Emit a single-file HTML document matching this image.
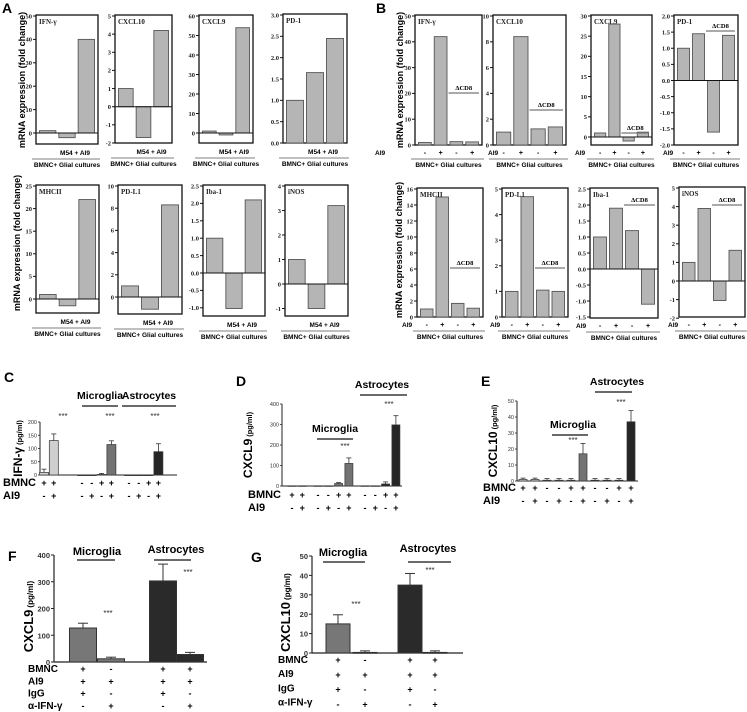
<!DOCTYPE html>
<html><head><meta charset="utf-8"><style>
html,body{margin:0;padding:0;background:#fff;}
svg{display:block;font-family:"Liberation Sans",sans-serif;}
.sf{font-family:"Liberation Serif",serif;}
</style></head><body>
<svg id="fig" width="747" height="712" viewBox="0 0 747 712" xmlns="http://www.w3.org/2000/svg"></svg>
<script>
// ---------- data ----------
const barCatsA = ['bmnc-glial', 'm54', 'm54-ai9'];
const aIFNg = [1, -2, 40];
const aCXCL10 = [1, -1.7, 4.2];
const aCXCL9 = [1, -1, 54];
const aPD1 = [1, 1.65, 2.45];
const aMHCII = [1, -1.5, 22];
const aPDL1 = [1, -1.1, 8.3];
const aIba1 = [1, -1.02, 2.1];
const aINOS = [1, -1, 3.2];
const bIFNg = [1, 42, 1.3, 1.2];
const bCXCL10 = [1, 8.4, 1.25, 1.4];
const bCXCL9 = [1, 28, -1, 1.2];
const bPD1 = [1, 1.45, -1.6, 1.4];
const bMHCII = [1, 15, 1.7, 1.1];
const bPDL1 = [1, 4.7, 1.05, 1];
const bIba1 = [1, 1.9, 1.2, -1.1];
const bINOS = [1, 3.9, -1.05, 1.65];
const bAI9 = ['-', '+', '-', '+'];
const tA1 = [0,10,20,30,40,50];
const tA2 = [-2,-1,0,1,2,3,4,5];
const tA3 = [0,10,20,30,40,50,60];
const tA4 = ['0.0','0.5','1.0','1.5','2.0','2.5','3.0'];
const tA5 = [0,5,10,15,20,25];
const tA6 = [0,2,4,6,8,10];
const tA7 = ['-1.0','-0.5','0.0','0.5','1.0','1.5','2.0','2.5'];
const tA8 = [-1,0,1,2,3,4];
const tB1 = [0,10,20,30,40,50];
const tB2 = [0,2,4,6,8,10];
const tB3 = [0,5,10,15,20,25,30];
const tB4 = ['-2.0','-1.5','-1.0','-0.5','0.0','0.5','1.0','1.5','2.0'];
const tB5 = [0,2,4,6,8,10,12,14,16];
const tB6 = [0,1,2,3,4,5];
const tB7 = ['-1.5','-1.0','-0.5','0.0','0.5','1.0','1.5','2.0','2.5'];
const tB8 = [-2,-1,0,1,2,3,4,5];

const cVals = [10,130,0,0,2,115,0,0,0,88];
const cErr = [12,25,0,0,4,14,0,0,0,30];
const cTicks = [0,50,100,150,200];
const dVals = [1,1,1,1,12,110,1,1,10,298];
const dErr = [0,0,0,0,5,27,0,0,10,45];
const dTicks = [0,100,200,300,400];
const eVals = [1,1,0.5,0.5,0.5,17,0.5,0.5,0.5,37];
const eErr = [0.8,0.8,1,1,1,6.5,1,1,1,7];
const eTicks = [0,10,20,30,40,50];
const cdeBMNC = ['+','+','-','-','+','+','-','-','+','+'];
const cdeAI9 = ['-','+','-','+','-','+','-','+','-','+'];
const fVals = [127,12,303,28];
const fErr = [18,6,63,8];
const fTicks = [0,100,200,300,400];
const gVals = [15,0.3,35,0.3];
const gErr = [4.7,0.8,6,0.8];
const gTicks = [0,10,20,30,40,50];
const fgBMNC = ['+','-','+','+'];
const fgAI9 = ['+','+','+','+'];
const fgIgG = ['+','-','+','-'];
const fgAntiIFN = ['-','+','-','+'];

// ---------- helpers ----------
const svg = document.getElementById('fig');
const NS = 'http://www.w3.org/2000/svg';
function mk(tag, attrs, parent) {
  const e = document.createElementNS(NS, tag);
  for (const k in attrs) e.setAttribute(k, attrs[k]);
  (parent || svg).appendChild(e);
  return e;
}
function txt(s, x, y, size, opts, parent) {
  const e = mk('text', Object.assign({x: x, y: y, 'font-size': size}, opts || {}), parent);
  e.textContent = s;
  return e;
}

// ---------- A/B mRNA panels ----------
function mrnaPanel(name, x0, x1, yMaxPx, yZeroPx, yBot, maxV, ticks, vals, title, isB, dY, ai9Off) {
  const g = mk('g', {});
  
  
  const sc = (yZeroPx - yMaxPx) / maxV;
  const Y = v => yZeroPx - v * sc;
  const fr = mk('rect', {x: x0, y: yMaxPx - 1, width: x1 - x0, height: yBot - yMaxPx + 1, fill: '#fff', stroke: '#111', 'stroke-width': 1.3}, g);
  
  
  ticks.forEach(t => {
    const v = parseFloat(t);
    const yy = Y(v);
    mk('line', {x1: x0 - 3, x2: x0, y1: yy, y2: yy, stroke: '#111', 'stroke-width': 1}, g);
    const tl = txt(String(t), x0 - 4, yy + 2.3, 6.5, {'text-anchor': 'end', 'font-weight': 'bold', class: 'sf', fill: '#222'}, g);
    
    
  });
  const n = vals.length;
  const inner = x1 - x0 - 4;
  const slot = inner / n;
  vals.forEach((v, i) => {
    const bx = x0 + 2 + i * slot + 1.5;
    const yv = Y(v);
    const top = Math.min(yv, yZeroPx), h = Math.abs(yv - yZeroPx);
    const r = mk('rect', {x: bx, y: top, width: slot - 3, height: h, fill: '#b5b5b5', stroke: '#555', 'stroke-width': 0.9}, g);
    
    
  });
  if (yZeroPx < yBot - 1) mk('line', {x1: x0, x2: x1, y1: yZeroPx, y2: yZeroPx, stroke: '#111', 'stroke-width': 1}, g);
  const tt = txt(title, x0 + 3, yMaxPx + 8, 7, {class: 'sf', 'font-weight': 'bold', fill: '#222'}, g);
  
  
  const base = isB ? yBot + 10 : yBot + 11;
  if (isB) {
    const al = txt('AI9', x0 - ai9Off, base, 6.5, {'font-weight': 'bold'}, g);
    
    
    vals.forEach((v, i) => {
      const cx = x0 + 2 + (i + 0.5) * slot;
      const s = txt(bAI9[i], cx, base, 7, {'text-anchor': 'middle', 'font-weight': 'bold'}, g);
      
      
    });
    const lx1 = x0 + 2 + 2 * slot, lx2 = x1 - 3;
    const dl = txt('ΔCD8', (lx1 + lx2) / 2, dY, 6.5, {'text-anchor': 'middle', class: 'sf', 'font-weight': 'bold'}, g);
    
    
    mk('line', {x1: lx1, x2: lx2, y1: dY + 3, y2: dY + 3, stroke: '#777', 'stroke-width': 1.2}, g);
  } else {
    const ml = txt('M54  +  AI9', (x0 + x1) / 2 + 8, base, 6.5, {'text-anchor': 'middle', 'font-weight': 'bold'}, g);
    
    
  }
  mk('line', {x1: x0 - 4, x2: x1 + 2, y1: base + 4, y2: base + 4, stroke: '#999', 'stroke-width': 1.3}, g);
  const bl = txt('BMNC+ Glial cultures', (x0 + x1) / 2, base + 12, 6.5, {'text-anchor': 'middle', 'font-weight': 'bold'}, g);
  
  
}

function panelLetter(s, x, y) {
  const e = txt(s, x, y, 14, {'font-weight': 'bold'});
  
  
}
function rotLabel(s, x, y, size, name, sub) {
  const e = mk('text', {x: 0, y: 0, 'font-size': size, 'font-weight': 'bold', 'text-anchor': 'middle', transform: 'translate(' + x + ',' + y + ') rotate(-90)'});
  e.textContent = s;
  if (sub) {
    const ts = mk('tspan', {'font-size': size * 0.62, dx: 2}, e);
    ts.textContent = sub;
  }
  
  
}

panelLetter('A', 2, 13);
panelLetter('B', 376, 13);
rotLabel('mRNA expression (fold change)', 25, 80, 9, 'a-y-axis-title-top');
rotLabel('mRNA expression (fold change)', 20, 243, 9, 'a-y-axis-title-bottom');
rotLabel('mRNA expression (fold change)', 403, 80, 9, 'b-y-axis-title-top');
rotLabel('mRNA expression (fold change)', 402, 250, 9, 'b-y-axis-title-bottom');

mrnaPanel('a-ifng', 36, 98, 16, 133, 144, 50, tA1, aIFNg, 'IFN-γ', false);
mrnaPanel('a-cxcl10', 115, 172, 16, 106.7, 143, 5, tA2, aCXCL10, 'CXCL10', false);
mrnaPanel('a-cxcl9', 199, 253, 16, 133, 143, 60, tA3, aCXCL9, 'CXCL9', false);
mrnaPanel('a-pd1', 283, 347, 15, 143, 143, 3, tA4, aPD1, 'PD-1', false);
mrnaPanel('a-mhcii', 36, 99, 186, 299, 313, 25, tA5, aMHCII, 'MHCII', false);
mrnaPanel('a-pdl1', 118, 182, 186, 297, 314, 10, tA6, aPDL1, 'PD-L1', false);
mrnaPanel('a-iba1', 203, 265, 186, 273, 316, 2.5, tA7, aIba1, 'Iba-1', false);
mrnaPanel('a-inos', 285, 348, 186, 284, 316, 4, tA8, aINOS, 'iNOS', false);

mrnaPanel('b-ifng', 415, 482, 16, 145, 145, 50, tB1, bIFNg, 'IFN-γ', true, 90, 40);
mrnaPanel('b-cxcl10', 493, 566, 16, 145, 145, 10, tB2, bCXCL10, 'CXCL10', true, 107, 5);
mrnaPanel('b-cxcl9', 591, 652, 16, 137, 145, 30, tB3, bCXCL9, 'CXCL9', true, 130, 16);
mrnaPanel('b-pd1', 674, 738, 16, 80.5, 145, 2, tB4, bPD1, 'PD-1', true, 28, 11);
mrnaPanel('b-mhcii', 417, 483, 189, 317, 317, 16, tB5, bMHCII, 'MHCII', true, 265, 15);
mrnaPanel('b-pdl1', 502, 568, 189, 317, 317, 5, tB6, bPDL1, 'PD-L1', true, 265, 12);
mrnaPanel('b-iba1', 590, 658, 189, 269, 318, 2.5, tB7, bIba1, 'Iba-1', true, 202, 14);
mrnaPanel('b-inos', 679, 745, 188, 281, 317, 5, tB8, bINOS, 'iNOS', true, 202, 11);

// ---------- C/D/E ELISA panels ----------
const groupSizes = [2, 4, 4];
const groupColors = ['#cfcfcf', '#737373', '#262626'];
function elisaPanel(name, axX, xEnd, y0, yTopPx, maxV, ticks, vals, errs, groupStarts, step, bw, ylab, ylabX, lx, labY, micro, astro, stars) {
  const g = mk('g', {});
  
  
  const sc = (y0 - yTopPx) / maxV;
  const Y = v => y0 - v * sc;
  mk('line', {x1: axX, x2: axX, y1: yTopPx, y2: y0, stroke: '#222', 'stroke-width': 1}, g);
  mk('line', {x1: axX, x2: xEnd, y1: y0, y2: y0, stroke: '#222', 'stroke-width': 1}, g);
  ticks.forEach(t => {
    const yy = Y(t);
    mk('line', {x1: axX - 2, x2: axX, y1: yy, y2: yy, stroke: '#222', 'stroke-width': 0.8}, g);
    const tl = txt(String(t), axX - 3, yy + 2, 5.5, {'text-anchor': 'end', fill: '#333'}, g);
    
    
  });
  let idx = 0;
  const centers = [];
  groupSizes.forEach((gs, gi) => {
    for (let k = 0; k < gs; k++) {
      const cx = groupStarts[gi] + k * step;
      centers.push(cx);
      const v = vals[idx], e = errs[idx];
      const yv = Y(v);
      if (e > 0) {
        mk('line', {x1: cx, x2: cx, y1: Y(v + e), y2: yv, stroke: '#333', 'stroke-width': 0.8}, g);
        mk('line', {x1: cx - 2.5, x2: cx + 2.5, y1: Y(v + e), y2: Y(v + e), stroke: '#333', 'stroke-width': 0.8}, g);
      }
      const r = mk('rect', {x: cx - bw / 2, y: yv, width: bw, height: Math.max(y0 - yv, 0.6), fill: groupColors[gi], stroke: '#333', 'stroke-width': 0.7}, g);
      
      
      idx++;
    }
  });
  const rl = txt('BMNC', lx, labY, 11, {'font-weight': 'bold'}, g);
  
  
  const al = txt('AI9', lx, labY + 13, 11, {'font-weight': 'bold'}, g);
  
  
  centers.forEach((cx, i) => {
    const s1 = txt(cdeBMNC[i], cx, labY, 9, {'text-anchor': 'middle', 'font-weight': 'bold'}, g);
    
    
    const s2 = txt(cdeAI9[i], cx, labY + 13, 9, {'text-anchor': 'middle', 'font-weight': 'bold'}, g);
    
    
  });
  [micro, astro].forEach((m, i) => {
    const t = txt(i === 0 ? 'Microglia' : 'Astrocytes', m[0], m[1], 10.5, {'text-anchor': 'middle', 'font-weight': 'bold'}, g);
    
    
    mk('line', {x1: m[2], x2: m[3], y1: m[1] + 7, y2: m[1] + 7, stroke: '#111', 'stroke-width': 1.2}, g);
  });
  stars.forEach(s => {
    const st = txt('***', s[0], s[1], 8, {'text-anchor': 'middle', fill: '#333'}, g);
    
    
  });
  rotLabel(ylab, ylabX, (y0 + yTopPx) / 2, 12, name + '-y-axis-title', '(pg/ml)');
}

panelLetter('C', 4, 382);
panelLetter('D', 236, 386);
panelLetter('E', 481, 386);
elisaPanel('c', 40, 177, 475, 422, 200, cTicks, cVals, cErr, [44, 82, 129], 9.8, 9, 'IFN-γ', 22, 3, 486,
  [100, 399, 82, 118], [149, 399, 122, 176], [[63, 419], [110, 419], [155, 419]]);
elisaPanel('d', 282, 402, 486, 404, 400, dTicks, dVals, dErr, [292, 318, 365], 10.3, 8, 'CXCL9', 252, 248, 498,
  [335, 432, 317, 353], [382, 388, 360, 407], [[345, 449], [389, 407]]);
elisaPanel('e', 517, 638, 481, 401, 50, eTicks, eVals, eErr, [523, 547, 595], 12, 8, 'CXCL10', 497, 483, 491,
  [573, 428, 552, 588], [617, 385, 595, 632], [[573, 443], [621, 405]]);

// ---------- F/G blocking panels ----------
const fgColors = ['#777777', '#777777', '#2a2a2a', '#2a2a2a'];
function blockPanel(name, axX, xEnd, y0, yTopPx, maxV, ticks, vals, errs, xs, bw, ylab, ylabX, lx, rowY, rowStep, signDy, micro, astro, stars) {
  const g = mk('g', {});
  
  
  const sc = (y0 - yTopPx) / maxV;
  const Y = v => y0 - v * sc;
  mk('line', {x1: axX, x2: axX, y1: yTopPx, y2: y0, stroke: '#222', 'stroke-width': 1.2}, g);
  mk('line', {x1: axX, x2: xEnd, y1: y0, y2: y0, stroke: '#222', 'stroke-width': 1.2}, g);
  ticks.forEach(t => {
    const yy = Y(t);
    mk('line', {x1: axX - 3, x2: axX, y1: yy, y2: yy, stroke: '#222', 'stroke-width': 1}, g);
    const tl = txt(String(t), axX - 4, yy + 3, 7.5, {'text-anchor': 'end', 'font-weight': 'bold', fill: '#333'}, g);
    
    
  });
  vals.forEach((v, i) => {
    const cx = xs[i];
    const yv = Y(v), ye = Y(v + errs[i]);
    mk('line', {x1: cx, x2: cx, y1: ye, y2: yv, stroke: '#333', 'stroke-width': 1}, g);
    mk('line', {x1: cx - 5, x2: cx + 5, y1: ye, y2: ye, stroke: '#333', 'stroke-width': 1}, g);
    const r = mk('rect', {x: cx - bw / 2, y: yv, width: bw, height: Math.max(y0 - yv, 0.8), fill: fgColors[i], stroke: '#333', 'stroke-width': 1}, g);
    
    
  });
  const rows = [['BMNC', fgBMNC], ['AI9', fgAI9], ['IgG', fgIgG], ['α-IFN-γ', fgAntiIFN]];
  rows.forEach((rw, ri) => {
    const yy = rowY + ri * rowStep;
    const l = txt(rw[0], lx, yy, 10, {'font-weight': 'bold'}, g);
    
    
    rw[1].forEach((s, i) => {
      const st = txt(s, xs[i], yy + signDy * ri, 9, {'text-anchor': 'middle', 'font-weight': 'bold'}, g);
      
      
    });
  });
  [micro, astro].forEach((m, i) => {
    const t = txt(i === 0 ? 'Microglia' : 'Astrocytes', m[0], m[1], 11, {'text-anchor': 'middle', 'font-weight': 'bold'}, g);
    
    
    mk('line', {x1: m[2], x2: m[3], y1: m[4], y2: m[4], stroke: '#111', 'stroke-width': 1.3}, g);
  });
  stars.forEach(s => {
    const st = txt('***', s[0], s[1], 8, {'text-anchor': 'middle', fill: '#333'}, g);
    
    
  });
  rotLabel(ylab, ylabX, (y0 + yTopPx) / 2 + 8, 13, name + '-y-axis-title', '(pg/ml)');
}
panelLetter('F', 8, 561);
panelLetter('G', 251, 562);
blockPanel('f', 54, 207, 662, 555, 400, fTicks, fVals, fErr, [83, 111, 163, 190], 27, 'CXCL9', 33, 28, 672, 12.3, 0,
  [97, 555, 77, 115, 560], [176, 553, 154, 191, 560], [[108, 616], [188, 575]]);
blockPanel('g', 312, 463, 653, 556, 50, gTicks, gVals, gErr, [338, 365, 410, 435], 24, 'CXCL10', 290, 278, 663, 14.2, 0.6,
  [343, 556, 323, 365, 562], [428, 552, 408, 451, 562], [[356, 607], [430, 573]]);
</script>
</body></html>
